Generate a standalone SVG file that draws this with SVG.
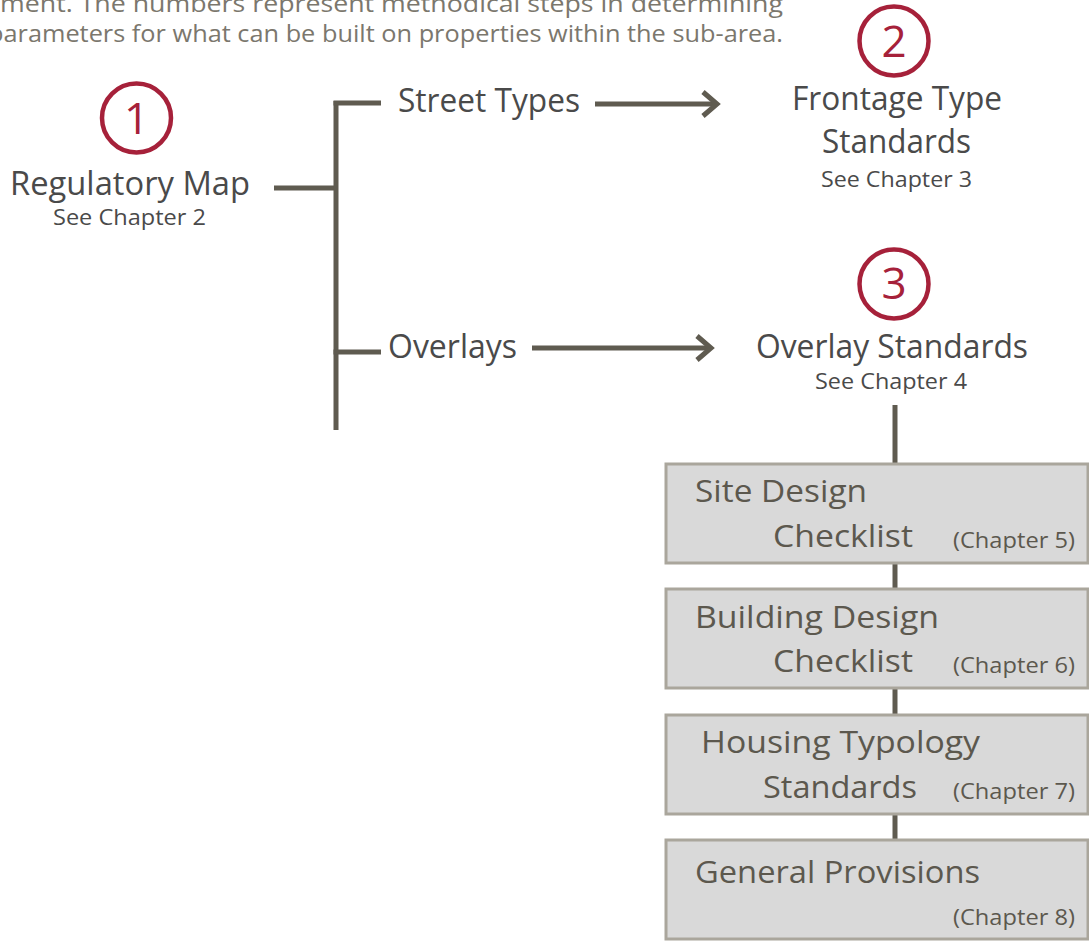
<svg xmlns="http://www.w3.org/2000/svg" width="1089" height="941" viewBox="0 0 1089 941">
  <style>
    .para { font-family: "Open Sans", "Noto Sans", sans-serif; font-size: 23px; fill: #7b776d; }
    .lbl { font-family: "Open Sans", "Noto Sans", sans-serif; font-size: 33px; fill: #4a4a4a; }
    .sub { font-family: "Open Sans", "Noto Sans", sans-serif; font-size: 22px; fill: #4a4a4a; }
    .num { font-family: "Open Sans", "Noto Sans", sans-serif; font-size: 44px; fill: #a6213a; text-anchor: middle; }
    .ring { fill: none; stroke: #a6213a; stroke-width: 4.5; }
    .box { fill: #d9d9d9; stroke: #aaa69c; stroke-width: 3; }
    .btxt { font-family: "Open Sans", "Noto Sans", sans-serif; font-size: 31px; fill: #5c584e; }
    .bsub { font-family: "Open Sans", "Noto Sans", sans-serif; font-size: 21px; fill: #5c584e; }
    .wire { fill: none; stroke: #5f5b50; stroke-width: 5; }
  </style>

  <!-- introductory paragraph -->
  <g id="intro">
    <text class="para" x="0" y="12" textLength="783" lengthAdjust="spacingAndGlyphs">ment.  The numbers represent methodical steps in determining</text>
    <text class="para" x="-12" y="42" textLength="795" lengthAdjust="spacingAndGlyphs">parameters for what can be built on properties within the sub-area.</text>
  </g>

  <!-- connectors -->
  <g id="connectors">
    <path class="wire" d="M274 188 H336"/>
    <path class="wire" d="M336 101 V430"/>
    <path class="wire" d="M333.5 103 H381"/>
    <path class="wire" d="M333.5 352 H381"/>
    <path class="wire" d="M595 104 H716"/>
    <path class="wire" d="M703 92 L717 104 L703 116"/>
    <path class="wire" d="M532 348 H710"/>
    <path class="wire" d="M697 336 L711 348 L697 360"/>
    <path class="wire" d="M895 405 V464"/>
    <path class="wire" d="M895 563 V590"/>
    <path class="wire" d="M895 688 V715"/>
    <path class="wire" d="M895 814 V841"/>
  </g>

  <!-- step 1 -->
  <g id="regulatory-map">
    <circle class="ring" cx="136.5" cy="118" r="34.5"/>
    <text class="num" x="136.5" y="134">1</text>
    <text class="lbl" x="10" y="195" textLength="240" lengthAdjust="spacingAndGlyphs">Regulatory Map</text>
    <text class="sub" x="53" y="225" textLength="153" lengthAdjust="spacingAndGlyphs">See Chapter 2</text>
  </g>

  <g id="street-types">
    <text class="lbl" x="398" y="112" textLength="182" lengthAdjust="spacingAndGlyphs">Street Types</text>
  </g>

  <g id="overlays">
    <text class="lbl" x="388" y="358" textLength="129" lengthAdjust="spacingAndGlyphs">Overlays</text>
  </g>

  <!-- step 2 -->
  <g id="frontage-type-standards">
    <circle class="ring" cx="894" cy="41" r="34.5"/>
    <text class="num" x="894" y="57">2</text>
    <text class="lbl" x="792" y="110" textLength="210" lengthAdjust="spacingAndGlyphs">Frontage Type</text>
    <text class="lbl" x="822" y="153" textLength="149" lengthAdjust="spacingAndGlyphs">Standards</text>
    <text class="sub" x="821" y="187" textLength="151" lengthAdjust="spacingAndGlyphs">See Chapter 3</text>
  </g>

  <!-- step 3 -->
  <g id="overlay-standards">
    <circle class="ring" cx="894" cy="284" r="34.5"/>
    <text class="num" x="894" y="299">3</text>
    <text class="lbl" x="756" y="358" textLength="272" lengthAdjust="spacingAndGlyphs">Overlay Standards</text>
    <text class="sub" x="815" y="389" textLength="152" lengthAdjust="spacingAndGlyphs">See Chapter 4</text>
  </g>

  <!-- checklist boxes -->
  <g id="site-design">
    <rect class="box" x="666" y="464" width="422" height="99"/>
    <text class="btxt" x="695" y="502" textLength="172" lengthAdjust="spacingAndGlyphs">Site Design</text>
    <text class="btxt" x="773" y="547" textLength="140" lengthAdjust="spacingAndGlyphs">Checklist</text>
    <text class="bsub" x="953" y="548" textLength="122" lengthAdjust="spacingAndGlyphs">(Chapter 5)</text>
  </g>

  <g id="building-design">
    <rect class="box" x="666" y="589" width="422" height="99"/>
    <text class="btxt" x="695" y="628" textLength="244" lengthAdjust="spacingAndGlyphs">Building Design</text>
    <text class="btxt" x="773" y="672" textLength="140" lengthAdjust="spacingAndGlyphs">Checklist</text>
    <text class="bsub" x="953" y="673" textLength="122" lengthAdjust="spacingAndGlyphs">(Chapter 6)</text>
  </g>

  <g id="housing-typology">
    <rect class="box" x="666" y="715" width="422" height="99"/>
    <text class="btxt" x="701" y="753" textLength="279" lengthAdjust="spacingAndGlyphs">Housing Typology</text>
    <text class="btxt" x="763" y="798" textLength="154" lengthAdjust="spacingAndGlyphs">Standards</text>
    <text class="bsub" x="953" y="799" textLength="122" lengthAdjust="spacingAndGlyphs">(Chapter 7)</text>
  </g>

  <g id="general-provisions">
    <rect class="box" x="666" y="840" width="422" height="99"/>
    <text class="btxt" x="695" y="883" textLength="285" lengthAdjust="spacingAndGlyphs">General Provisions</text>
    <text class="bsub" x="953" y="925" textLength="122" lengthAdjust="spacingAndGlyphs">(Chapter 8)</text>
  </g>
</svg>
